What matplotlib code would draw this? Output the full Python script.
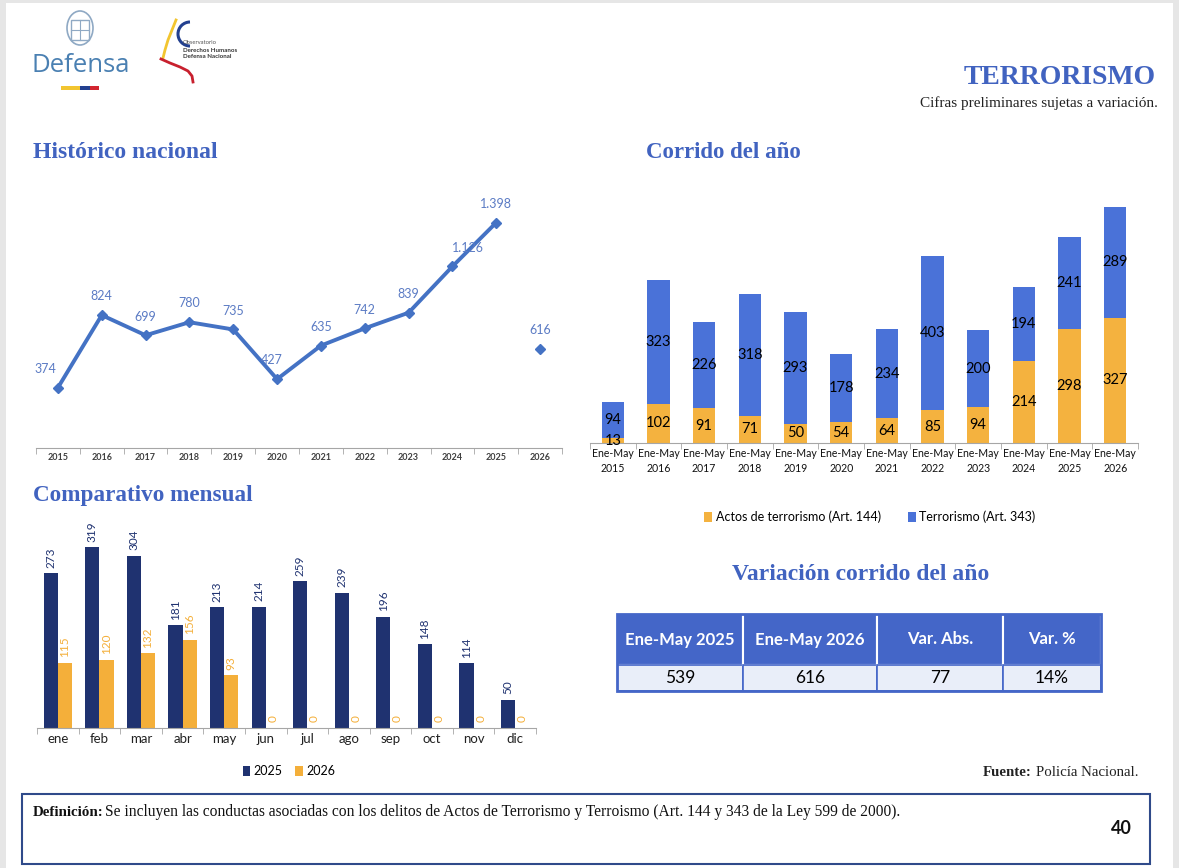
import numpy as np
import matplotlib
matplotlib.use("Agg")
import matplotlib.pyplot as plt
from matplotlib.patches import Rectangle, Arc, Ellipse
from matplotlib.lines import Line2D

plt.rcParams['font.family'] = ['Lato', 'DejaVu Sans']

# ---- data ----
years = ['2015', '2016', '2017', '2018', '2019', '2020',
         '2021', '2022', '2023', '2024', '2025', '2026']
hist_vals = [374, 824, 699, 780, 735, 427, 635, 742, 839, 1126, 1398]
hist_2026 = 616

ytd_labels = ['Ene-May\n' + y for y in years]
actos = [13, 102, 91, 71, 50, 54, 64, 85, 94, 214, 298, 327]
terror = [94, 323, 226, 318, 293, 178, 234, 403, 200, 194, 241, 289]

months = ['ene', 'feb', 'mar', 'abr', 'may', 'jun',
          'jul', 'ago', 'sep', 'oct', 'nov', 'dic']
m2025 = [273, 319, 304, 181, 213, 214, 259, 239, 196, 148, 114, 50]
m2026 = [115, 120, 132, 156, 93, 0, 0, 0, 0, 0, 0, 0]

tab_head = ['Ene-May 2025', 'Ene-May 2026', 'Var. Abs.', 'Var. %']
tab_vals = ['539', '616', '77', '14%']

# colours
title_blue = '#4163C0'
line_blue = '#4472C4'
lab_blue = '#5B7BC4'
bar_blue = '#4A72D8'
bar_orange = '#F4B23F'
navy = '#1F3270'
orange2 = '#F4AF3A'
grey_ax = '#A6A6A6'

W, H = 1179, 868
fig = plt.figure(figsize=(W / 100, H / 100), dpi=100)
fig.patch.set_facecolor('#E6E6E6')


def px_axes(left, top, right, bottom, **kw):
    return fig.add_axes([left / W, 1 - bottom / H, (right - left) / W, (bottom - top) / H], **kw)


def ftext(x, y, s, **kw):
    fig.text(x / W, 1 - y / H, s, **kw)


# page overlay in pixel coords
page = px_axes(0, 0, W, H, zorder=-5)
page.set_xlim(0, W)
page.set_ylim(H, 0)
page.axis('off')
page.add_patch(Rectangle((6, 3), W - 12, H - 3, facecolor='white', edgecolor='none'))

# Defensa logo
page.add_patch(Ellipse((80, 28), 26, 34, facecolor='none', edgecolor='#8FA9C4', lw=1.2))
page.add_patch(Rectangle((71, 20), 18, 20, facecolor='none', edgecolor='#8FA9C4', lw=1))
page.add_line(Line2D([71, 89], [30, 30], color='#8FA9C4', lw=0.8))
page.add_line(Line2D([80, 80], [20, 40], color='#8FA9C4', lw=0.8))
ftext(81, 65, 'Defensa', fontsize=18.5, color='#4A80B2', ha='center', va='center',
      family=['Open Sans', 'DejaVu Sans'])
page.add_patch(Rectangle((61, 86), 19, 4, color='#F2C530', lw=0))
page.add_patch(Rectangle((80, 86), 10, 4, color='#23408F', lw=0))
page.add_patch(Rectangle((90, 86), 9, 4, color='#D22630', lw=0))

# Observatorio logo
page.add_patch(Arc((190, 34), 24, 24, theta1=90, theta2=270, color='#23408F', lw=2.2))
page.add_line(Line2D([176, 172, 168, 165, 163], [20, 30, 40, 50, 58], color='#F2C530', lw=2))
page.add_line(Line2D([161, 170, 180, 188, 192, 193], [59, 63, 67, 71, 76, 82],
                     color='#C8202E', lw=2))
ftext(183, 43, 'Observatorio', fontsize=4.2, color='#555555', va='center')
ftext(183, 50, 'Derechos Humanos', fontsize=4.4, color='#333333', va='center', weight='bold')
ftext(183, 57, 'Defensa Nacional', fontsize=4.4, color='#333333', va='center', weight='bold')

serif = ['Liberation Serif', 'DejaVu Serif']
ftext(1156, 77, 'TERRORISMO', fontsize=20, color=title_blue, weight='bold',
      family=serif, ha='right', va='center')
ftext(1158, 103, 'Cifras preliminares sujetas a variación.', fontsize=11,
      color='#222222', family=serif, ha='right', va='center')

ftext(33, 153, 'Histórico nacional', fontsize=17, color=title_blue, weight='bold',
      family=serif, va='center')
ftext(646, 153, 'Corrido del año', fontsize=16.5, color=title_blue, weight='bold',
      family=serif, va='center')
ftext(33, 495, 'Comparativo mensual', fontsize=16.7, color=title_blue, weight='bold',
      family=serif, va='center')
ftext(861, 575, 'Variación corrido del año', fontsize=17, color=title_blue, weight='bold',
      family=serif, va='center', ha='center')


def fmt(v):
    return f'{v:,}'.replace(',', '.')


def category_axis(ax, n):
    for s in ['top', 'right', 'left']:
        ax.spines[s].set_visible(False)
    ax.spines['bottom'].set_color(grey_ax)
    ax.set_yticks([])
    ax.set_xticks(range(n))
    ax.set_xticks(np.arange(-0.5, n, 1), minor=True)
    ax.tick_params(axis='x', which='major', length=0)
    ax.tick_params(axis='x', which='minor', length=4, color=grey_ax, direction='out')
    ax.set_xlim(-0.5, n - 0.5)
    ax.patch.set_alpha(0)


# ---- Histórico nacional ----
ax1 = px_axes(36, 190, 562, 448)
ax1.plot(range(len(hist_vals)), hist_vals, color=line_blue, lw=2.8, marker='D', ms=5.5)
ax1.plot([len(hist_vals)], [hist_2026], color=line_blue, marker='D', ms=5.5, lw=0)
ax1.set_ylim(0, 1600)
category_axis(ax1, len(years))
ax1.set_xticklabels(years, fontsize=6.5, weight='bold', color='#404040')
nudge = {0: -9, 5: -4, 9: 11}
for i, v in enumerate(hist_vals + [hist_2026]):
    ax1.annotate(fmt(v), (i, v), xytext=(nudge.get(i, 0), 13.5), textcoords='offset points',
                 ha='center', va='center', fontsize=9, color=lab_blue)

# ---- Corrido del año ----
ax2 = px_axes(590, 194, 1138, 443)
xs = np.arange(len(years))
b1 = ax2.bar(xs, actos, width=0.49, color=bar_orange, label='Actos de terrorismo (Art. 144)')
b2 = ax2.bar(xs, terror, width=0.49, bottom=actos, color=bar_blue, label='Terrorismo (Art. 343)')
ax2.bar_label(b1, label_type='center', fontsize=10.5, color='black')
ax2.bar_label(b2, label_type='center', fontsize=10.5, color='black')
ax2.set_ylim(0, 650)
category_axis(ax2, len(years))
ax2.set_xticklabels(ytd_labels, fontsize=7.6, color='#111111', linespacing=1.5)
fig.legend(handles=[b1, b2], loc='center', bbox_to_anchor=(870 / W, 1 - 517 / H), ncol=2,
           frameon=False, fontsize=9, handlelength=0.6, handleheight=0.9, handletextpad=0.3,
           columnspacing=2.2)

# ---- Comparativo mensual ----
ax3 = px_axes(37, 524, 536, 728)
mx = np.arange(len(months))
w = 0.34
c1 = ax3.bar(mx - w / 2, m2025, w, color=navy, label='2025')
c2 = ax3.bar(mx + w / 2, m2026, w, color=orange2, label='2026')
ax3.bar_label(c1, padding=4, rotation=90, fontsize=8.5, color=navy)
ax3.bar_label(c2, padding=4, rotation=90, fontsize=8.5, color=orange2)
ax3.set_ylim(0, 360)
category_axis(ax3, len(months))
ax3.set_xticklabels(months, fontsize=9.5, color='#222222')
fig.legend(handles=[c1, c2], loc='center', bbox_to_anchor=(289 / W, 1 - 771 / H), ncol=2,
           frameon=False, fontsize=9, handlelength=0.6, handleheight=0.9, handletextpad=0.3,
           columnspacing=1.0)

# ---- tabla variación ----
ax4 = px_axes(617, 614, 1101, 691)
col_w = np.array([126, 134, 126, 98])
edges = np.concatenate([[0], np.cumsum(col_w)])
row_h, head_h = 26, 51
ax4.set_xlim(0, edges[-1])
ax4.set_ylim(0, row_h + head_h)
ax4.axis('off')
tab_blue = '#4466C8'
for j in range(len(tab_head)):
    x0, x1 = edges[j], edges[j + 1]
    ax4.add_patch(Rectangle((x0, row_h), x1 - x0, head_h, facecolor=tab_blue,
                            edgecolor='white', lw=1.5))
    ax4.add_patch(Rectangle((x0, 0), x1 - x0, row_h, facecolor='#E9EEF9',
                            edgecolor=tab_blue, lw=1.2))
    ax4.text((x0 + x1) / 2, row_h + head_h / 2, tab_head[j], ha='center', va='center',
             color='white', weight='bold', fontsize=12)
    ax4.text((x0 + x1) / 2, row_h / 2, tab_vals[j], ha='center', va='center',
             color='black', fontsize=12.5)
ax4.add_patch(Rectangle((0, 0), edges[-1], row_h + head_h, facecolor='none',
                        edgecolor=tab_blue, lw=2, clip_on=False))

# ---- pie de página ----
ftext(1138, 773, 'Policía Nacional.', fontsize=10.7, family=serif, ha='right', va='center',
      color='#222222')
ftext(1032, 773, 'Fuente:', fontsize=10.7, family=serif, ha='right', va='center',
      weight='bold', color='#222222')
page.add_patch(Rectangle((22, 794), 1128, 70, facecolor='none', edgecolor='#2F4A8A', lw=1.5))
ftext(33, 812, 'Definición:', fontsize=10.8, family=serif, weight='bold', va='center',
      color='#111111')
ftext(105, 812, 'Se incluyen las conductas asociadas con los delitos de Actos de Terrorismo '
      'y Terroismo (Art. 144 y 343 de la Ley 599 de 2000).', fontsize=11.2, family=serif,
      va='center', color='#111111')
ftext(1132, 828, '40', fontsize=13, weight='bold', ha='right', va='center', color='#111111')

fig.savefig('out.png', dpi=100, facecolor=fig.get_facecolor())
